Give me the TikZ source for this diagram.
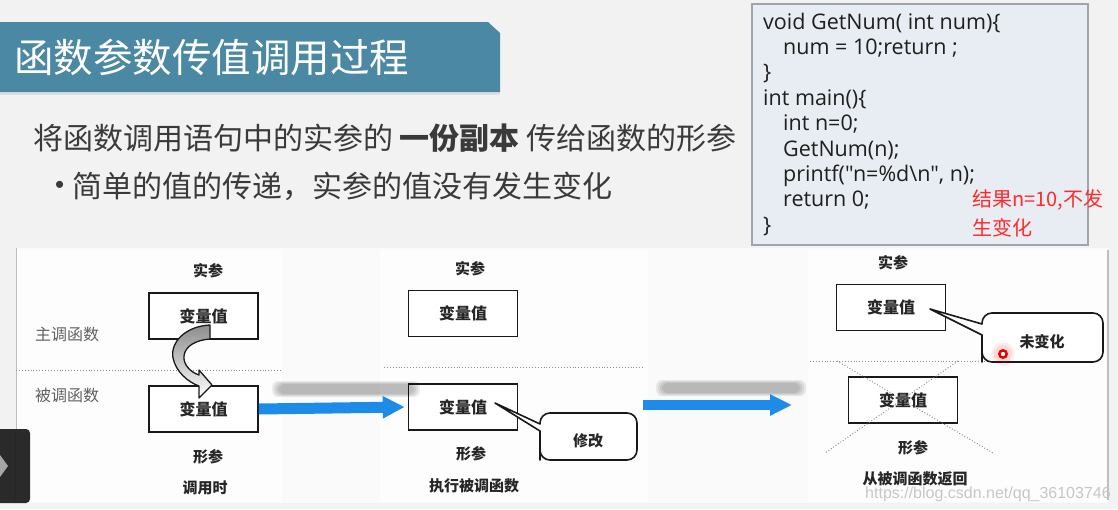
\documentclass[tikz,border=0pt]{standalone}
\usepackage{fontspec}
\newfontfamily\cjk{Noto Sans CJK SC}
\newfontfamily\codefont{Open Sans}
\newfontfamily\wmfont{Liberation Sans}
\usetikzlibrary{arrows.meta}
\definecolor{slidebg}{HTML}{F2F2F2}
\definecolor{panelbg}{HTML}{FAFAFA}
\definecolor{titleblue}{HTML}{4A88A4}
\definecolor{codefill}{HTML}{E7EDF3}
\definecolor{codeborder}{HTML}{9EA5AC}
\definecolor{bodytext}{HTML}{3A3A3A}
\definecolor{arrowblue}{HTML}{1C8CE8}
\definecolor{redtext}{HTML}{FF2A2A}
\definecolor{ctrldark}{HTML}{2A2A2A}
\newcommand\myblur[4]{%
  \foreach \g in {0,2,4,6}{\fill[black,opacity=0.07,rounded corners=6pt] (#1-\g,#2-\g/2) rectangle (#3+\g,#4+\g/2);}}
\tikzset{
  lbl/.style={font=\cjk\bfseries\fontsize{15}{18}\selectfont, text=black!85, inner sep=0pt},
  side/.style={font=\cjk\fontsize{16}{18}\selectfont, text=black!62, inner sep=0pt},
  vbox/.style={draw=black!90, line width=1.6pt, minimum width=109pt, minimum height=46pt,
    inner sep=0pt, fill=white, font=\cjk\bfseries\fontsize{16}{18}\selectfont, text=black!85},
  callout/.style={draw=black!90, line width=1.6pt, fill=white, line join=round},
  sep/.style={draw=black!45, line width=0.9pt, dotted},
  crossline/.style={draw=black!50, line width=0.9pt, dotted},
  code/.style={font=\codefont\fontsize{21.5}{24}\selectfont, text=black!88, inner sep=0pt, anchor=base west},
  bigarrow/.style={draw=arrowblue, line width=11pt, -{Triangle[length=22pt,width=21pt]}},
}
\begin{document}
\begin{tikzpicture}[x=1pt,y=-1pt]
\useasboundingbox (0,0) rectangle (1118,509);
\fill[slidebg] (0,0) rectangle (1118,509);

% title banner
\fill[black!12] (0,92) rectangle (500,95);
\fill[titleblue] (0,22) -- (488,22) -- (500,33) -- (500,92) -- (0,92) -- cycle;
\node[anchor=west, inner sep=0pt, text=white, font=\cjk\fontsize{39.5}{42}\selectfont] (title) at (14,57) {函数参数传值调用过程};

% body text
\node[anchor=west, inner sep=0pt, text=bodytext, font=\cjk\fontsize{30}{32}\selectfont] (line1) at (33,138)
  {将函数调用语句中的实参的 \textbf{一份副本} 传给函数的形参};
\node[anchor=west, inner sep=0pt, text=bodytext, font=\wmfont\fontsize{26}{28}\selectfont] (bullet) at (55,187) {•};
\node[anchor=west, inner sep=0pt, text=bodytext, font=\cjk\fontsize{30}{32}\selectfont] (line2) at (72,186)
  {简单的值的传递，实参的值没有发生变化};

% diagram area
\fill[panelbg] (16,248) rectangle (1108,503);
\fill[white,opacity=0.6] (16,250) rectangle (282,502);
\fill[white,opacity=0.6] (380,250) rectangle (648,502);
\fill[white,opacity=0.6] (808,250) rectangle (1106,502);
\draw[black!25, line width=1pt] (16,248) -- (16,503);
\draw[black!25, line width=1.5pt] (1108,250) -- (1108,500);

% code box
\draw[codeborder, line width=2.5pt, fill=codefill] (752,4) rectangle (1088,245);
\node[code] (c1) at (763,29) {void GetNum( int num)\{};
\node[code] (c2) at (783,54.4) {num = 10;return ;};
\node[code] (c3) at (763,79.8) {\}};
\node[code] (c4) at (763,105.2) {int main()\{};
\node[code] (c5) at (783,130.6) {int n=0;};
\node[code] (c6) at (783,156) {GetNum(n);};
\node[code] (c7) at (783,181.4) {printf("n=\%d\textbackslash n", n);};
\node[code] (c8) at (783,206.8) {return 0;};
\node[code] (c9) at (763,232.2) {\}};
\node[anchor=base west, inner sep=0pt, text=redtext, font=\cjk\fontsize{20}{22}\selectfont] (res1) at (972,206) {结果n=10,不发};
\node[anchor=base west, inner sep=0pt, text=redtext, font=\cjk\fontsize{20}{22}\selectfont] (res2) at (972,235) {生变化};

% ---------- left panel ----------
\node[lbl] (lt) at (208,271) {实参};
\draw[sep] (16,370) -- (281,370);
\node[vbox] (l1) at (203.5,316) {变量值};
\node[vbox] (l2) at (203.5,409) {变量值};
\node[side] (main) at (67,334) {主调函数};
\node[side] (callee) at (67,395) {被调函数};
\node[lbl] (lb) at (208,457) {形参};
\node[lbl] (lcap) at (205,488) {调用时};
% curved copy arrow
\shade[top color=black!45, bottom color=white, draw=black!90, line width=1.3pt, line join=round]
  (210,325) .. controls (186,326) and (170,342) .. (173,358)
  .. controls (176,372) and (188,382) .. (199,386)
  -- (199,398) -- (212,385) -- (199,370) -- (199,375)
  .. controls (190,372) and (183,364) .. (184,356)
  .. controls (185,346) and (196,340) .. (210,339) -- cycle;

% ---------- middle panel ----------
\node[lbl] (mt) at (470,269) {实参};
\node[vbox] (m1) at (463,313.5) {变量值};
\draw[sep] (384,367) -- (645,367);
\node[vbox] (m2) at (463,407) {变量值};
\node[lbl] (mb) at (471,454) {形参};
\node[lbl] (mcap) at (474,486) {执行被调函数};
\coordinate (mtip) at (495,403);
\draw[callout] (540,431) -- (mtip) -- (540,424)
  {[rounded corners=10pt] -- (540,413) -- (637,413) -- (637,460) -- (540,460) -- (540,450)} -- cycle;
\node[lbl] (modify) at (588,441) {修改};

% arrow 1 with shadow
\myblur{278}{384}{414}{394}
\draw[bigarrow] (l2.east) -- ([xshift=-3pt]m2.west);

% arrow 2 with shadow
\myblur{662}{383}{800}{393}
\coordinate (a2s) at (643,405);
\coordinate (a2e) at (792,405);
\draw[draw=arrowblue, line width=10pt, -{Triangle[length=22pt,width=20pt]}] (a2s) -- (a2e);

% ---------- right panel ----------
\node[lbl] (rt) at (893,263) {实参};
\node[vbox] (r1) at (891,307.5) {变量值};
\draw[sep] (810,361) -- (990,361);
\coordinate (rtip) at (930,309);
\draw[callout] (982,335) -- (rtip) -- (982,324)
  {[rounded corners=10pt] -- (982,313) -- (1103,313) -- (1103,362) -- (982,362) -- (982,352)} -- cycle;
\node[lbl] (unch) at (1042,342) {未变化};
\node[vbox] (r2) at (903,400) {变量值};
\draw[crossline] (837,361) -- (993,453);
\draw[crossline] (958,361) -- (825,453);
\node[lbl] (rb) at (913,448) {形参};
\node[lbl] (rcap) at (915,479) {从被调函数返回};

% red pointer dot
\fill[red, opacity=0.06] (1003,354) circle (12);
\fill[red, opacity=0.10] (1003,354) circle (9);
\fill[red!90!black] (1003,354) circle (5);
\fill[white] (1003,354) circle (2.2);

% watermark
\node[anchor=west, inner sep=0pt, text=black!22, font=\wmfont\fontsize{16}{18}\selectfont] (wm) at (865,494) {https://blog.csdn.net/qq\_36103746};

% video control
\fill[ctrldark, rounded corners=4pt] (-6,429) rectangle (30,503);
\draw[black!85, line width=1pt] (15,431) -- (15,501);
\fill[black!35] (0,455) -- (8,466) -- (0,477) -- cycle;
\end{tikzpicture}
\end{document}
